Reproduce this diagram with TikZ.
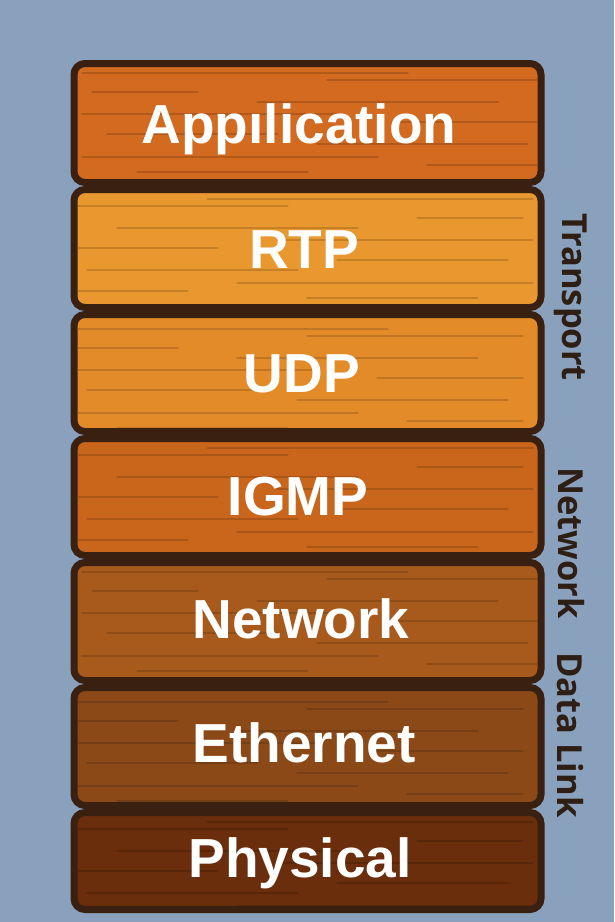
\documentclass[tikz,border=0pt]{standalone}
\usepackage{fontspec}
\setmainfont{Liberation Sans}
\newfontfamily\sidefont{Open Sans}
\definecolor{bgc}{HTML}{8AA1BD}
\definecolor{edge}{HTML}{3A2010}
\definecolor{cApp}{HTML}{D26A1F}
\definecolor{cRtp}{HTML}{E9982F}
\definecolor{cUdp}{HTML}{E38B28}
\definecolor{cIgmp}{HTML}{C9661C}
\definecolor{cNet}{HTML}{A85A1C}
\definecolor{cEth}{HTML}{8C4918}
\definecolor{cPhy}{HTML}{6B2E0D}
\definecolor{sidec}{HTML}{2E1E14}
\newcommand{\grainA}{%
  \draw (5,6) -- (330,6); \draw (250,13) -- (465,13);
  \draw (15,25) -- (120,25); \draw (180,35) -- (420,35);
  \draw (5,47) -- (260,47); \draw (320,55) -- (465,55);
  \draw (30,67) -- (200,67); \draw (240,77) -- (450,77);
  \draw (5,90) -- (300,90); \draw (350,98) -- (465,98);
  \draw (60,105) -- (230,105);}
% #1 inner top, #2 inner bottom, #3 variant (0 normal, 1 mirrored, 2 shifted), #4 colour
\newcommand{\grainbox}[4]{%
  \begin{scope}
    \clip[rounded corners=7pt] (77.5,#1) rectangle (537.5,#2);
    \ifcase#3
      \begin{scope}[shift={(77.5,#1)},grain,draw=#4!72!black]\grainA\end{scope}
    \or
      \begin{scope}[shift={(537.5,#1)},xscale=-1,grain,draw=#4!72!black]\grainA\end{scope}
    \or
      \begin{scope}[shift={(57.5,#1)},yshift=-5pt,grain,draw=#4!72!black]\grainA\end{scope}
    \fi
  \end{scope}}
\tikzset{
  layerbox/.style={draw=edge, line width=7pt, rounded corners=11pt,
    minimum width=467pt, inner sep=0pt},
  grain/.style={opacity=0.55, line width=2.6pt, line cap=round},
  lbl/.style={text=white, font=\bfseries\fontsize{55}{55}\selectfont, inner sep=0pt, anchor=base},
  side/.style={text=sidec, font=\sidefont\bfseries\fontsize{34.5}{34.5}\selectfont, rotate=-90, inner sep=0pt}
}
\begin{document}
\begin{tikzpicture}[x=1pt,y=-1pt]
\fill[bgc] (0,0) rectangle (614,922);
\useasboundingbox (0,0) rectangle (614,922);
% layers (outer edges: 60,186,311,435,559,684,809,913)
\node[layerbox, fill=cApp, minimum height=119pt] (app) at (307.5,123) {};
\node[layerbox, fill=cRtp, minimum height=118pt] (rtp) at (307.5,248.5) {};
\node[layerbox, fill=cUdp, minimum height=117pt] (udp) at (307.5,373) {};
\node[layerbox, fill=cIgmp, minimum height=117pt] (igmp) at (307.5,497) {};
\node[layerbox, fill=cNet, minimum height=118pt] (net) at (307.5,621.5) {};
\node[layerbox, fill=cEth, minimum height=118pt] (eth) at (307.5,746.5) {};
\node[layerbox, fill=cPhy, minimum height=97pt] (phy) at (307.5,861) {};
% wood grain
\grainbox{67}{179}{0}{cApp}
\grainbox{193}{304}{1}{cRtp}
\grainbox{318}{428}{2}{cUdp}
\grainbox{442}{552}{1}{cIgmp}
\grainbox{566}{677}{0}{cNet}
\grainbox{691}{802}{2}{cEth}
\grainbox{816}{906}{1}{cPhy}
% labels
\node[lbl] (tapp) at (299,143) {Appılication};
\node[lbl] (trtp) at (304,268) {RTP};
\node[lbl] (tudp) at (302,392) {UDP};
\node[lbl] (tigmp) at (298,515) {IGMP};
\node[lbl] (tnet) at (301,638) {Network};
\node[lbl] (teth) at (304,762) {Ethernet};
\node[lbl] (tphy) at (300,877) {Physical};
% side labels
\node[side] (stra) at (571,297) {Transport};
\node[side] (snet) at (571,543) {Network};
\node[side] (sdl) at (570,735) {Data Link};
\end{tikzpicture}
\end{document}
